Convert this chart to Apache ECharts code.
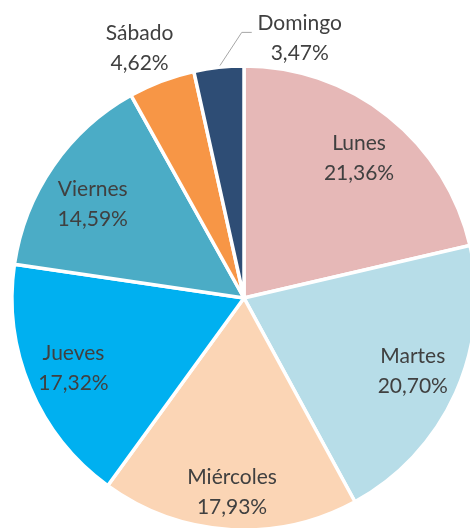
<!DOCTYPE html>
<html>
<head>
<meta charset="utf-8">
<script src="https://cdn.jsdelivr.net/npm/echarts@6/dist/echarts.min.js"></script>
<style>
html,body{margin:0;padding:0;background:#fff;}
#chart{width:470px;height:528px;}
</style>
</head>
<body>
<div id="chart"></div>
<script>
const categories = ['Lunes', 'Martes', 'Miércoles', 'Jueves', 'Viernes', 'Sábado', 'Domingo'];
const values = [21.36, 20.70, 17.93, 17.32, 14.59, 4.62, 3.47];
const colors = ['#E6B8B7', '#B7DDE8', '#FBD5B5', '#00B0F0', '#4BACC6', '#F79646', '#2E4D75'];
const outsideLabels = ['Sábado', 'Domingo'];

const center = [244, 298];
const R = 232;
// small label nudges (px) to match the reference placement
const labelNudge = {Lunes: [0, 5], Martes: [0, -3], 'Miércoles': [0, 10], Jueves: [0, -2], Viernes: [1, 11]};

function fmt(v) { return v.toFixed(2).replace('.', ',') + '%'; }

const chart = echarts.init(document.getElementById('chart'), null, {renderer: 'canvas'});

const baseData = categories.map((c, i) => ({
  name: c, value: values[i], itemStyle: {color: colors[i]}
}));

const labelData = categories.map((c, i) => {
  const outside = outsideLabels.includes(c);
  return {
    name: c, value: values[i],
    label: {position: outside ? 'outside' : 'inside'},
    labelLine: {
      show: outside,
      lineStyle: {color: '#A6A6A6', width: 1, opacity: c === 'Domingo' ? 1 : 0}
    }
  };
});

chart.setOption({
  animation: false,
  series: [
    {
      type: 'pie',
      center: center,
      radius: R,
      startAngle: 90,
      clockwise: true,
      silent: true,
      label: {show: false},
      labelLine: {show: false},
      itemStyle: {borderColor: '#fff', borderWidth: 3.5},
      data: baseData
    },
    {
      type: 'pie',
      center: center,
      radius: [132, R],
      startAngle: 90,
      clockwise: true,
      silent: true,
      avoidLabelOverlap: false,
      itemStyle: {color: 'rgba(0,0,0,0)', borderWidth: 0},
      label: {
        show: true,
        color: '#404040',
        fontFamily: 'Lato',
        fontSize: 21,
        lineHeight: 30,
        align: 'center',
        formatter: p => p.name + '\n' + fmt(p.value)
      },
      labelLine: {length: 20, length2: 10},
      labelLayout: function (params) {
        const name = categories[params.dataIndex];
        if (labelNudge[name]) {
          return {dx: labelNudge[name][0], dy: labelNudge[name][1]};
        }
        const pts = params.labelLinePoints;
        if (!pts) return {};
        const p0 = pts[0];
        if (name === 'Domingo') {
          return {
            x: p0[0] + 81, y: p0[1] - 29, align: 'center', verticalAlign: 'middle',
            labelLinePoints: [p0, [p0[0] + 23, p0[1] - 35], [p0[0] + 33, p0[1] - 35]]
          };
        }
        if (name === 'Sábado') {
          return {
            x: p0[0] - 22, y: p0[1] - 33, align: 'center', verticalAlign: 'middle',
            labelLinePoints: [p0, p0, p0]
          };
        }
        return {};
      },
      data: labelData
    }
  ]
});
</script>
</body>
</html>
